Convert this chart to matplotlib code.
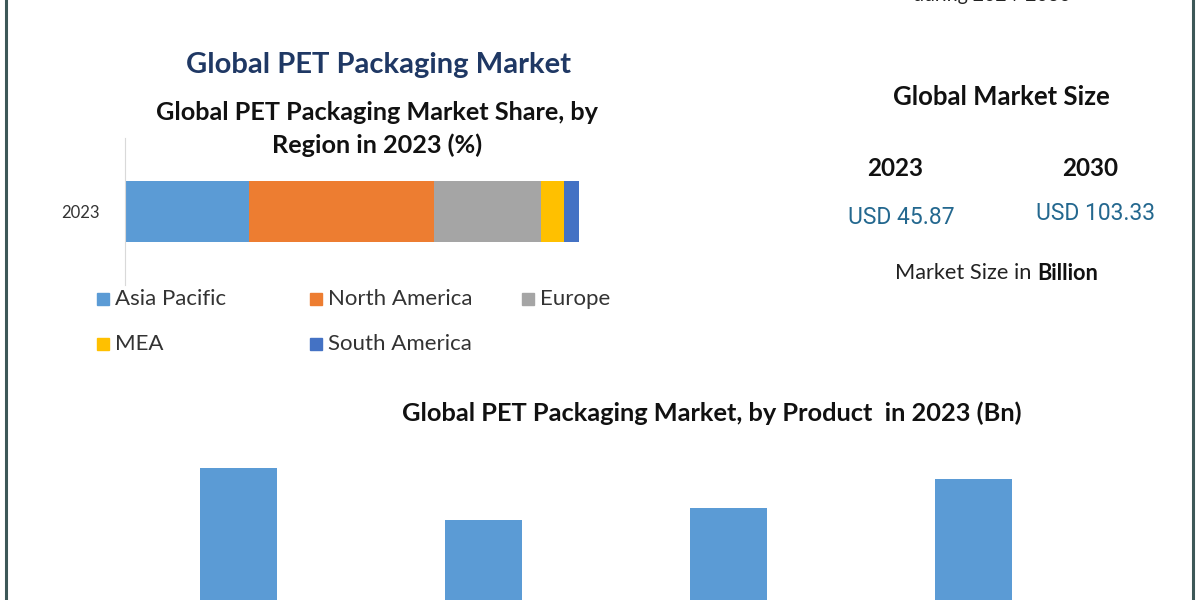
import matplotlib.pyplot as plt
from matplotlib.patches import Rectangle
from matplotlib.lines import Line2D

plt.rcParams['font.family'] = ['Lato', 'DejaVu Sans']

# participação por região em 2023 (%)
regioes = ['Asia Pacific', 'North America', 'Europe', 'MEA', 'South America']
share = [27.2, 40.8, 23.6, 5.1, 3.3]
cores = ['#5b9bd5', '#ed7d31', '#a5a5a5', '#ffc000', '#4472c4']

# mercado global (USD Bn)
anos = ['2023', '2030']
tamanho = ['USD 45.87', 'USD 103.33']

# mercado por produto em 2023 (Bn)
produtos = ['Bottles & Jars', 'Bags & Pouches', 'Trays', 'Lids/Caps & Closures']
valores = [12.9, 10.0, 10.7, 12.3]

W, H = 1200, 600


def px(x, y):  # pixel -> coordenada da figura
    return x / W, 1 - y / H


fig = plt.figure(figsize=(12, 6), dpi=100)
fig.patch.set_facecolor('white')

# bordas laterais
for xb in [5.5, 1192.5]:
    fig.add_artist(Line2D([xb / W, xb / W], [0, 1], color='#3d5858', lw=2.2))

# textos do topo
fig.text(*px(992, -5), 'during 2024-2030', ha='center', va='center', fontsize=14, color='#222222')
fig.text(*px(379, 65), 'Global PET Packaging Market', ha='center', va='center',
         fontsize=21, fontweight='bold', color='#1f3864')
fig.text(*px(377, 129), 'Global PET Packaging Market Share, by\nRegion in 2023 (%)', ha='center',
         va='center', fontsize=18.2, fontweight='bold', color='#111111', linespacing=1.45)

# barra empilhada horizontal
ax = fig.add_axes([125 / W, 1 - 285 / H, 545 / W, 147 / H])
left = 0
for nome, val, c in zip(regioes, share, cores):
    ax.barh(['2023'], [val], left=left, color=c, height=0.42, label=nome)
    left += val
ax.set_xlim(0, 120)
ax.set_ylim(-0.5, 0.5)
for s in ['top', 'right', 'bottom']:
    ax.spines[s].set_visible(False)
ax.spines['left'].set_color('#d9d9d9')
ax.set_xticks([])
ax.tick_params(axis='y', length=0, labelsize=12, pad=18, labelcolor='#333333')

# legenda (linha por linha)
leg_x = [97, 310, 522]
leg_y = [299, 344]
for i, (nome, c) in enumerate(zip(regioes, cores)):
    lx, ly = leg_x[i % 3], leg_y[i // 3]
    fig.add_artist(Rectangle(px(lx, ly + 6), 12 / W, 12 / H, color=c))
    fig.text(*px(lx + 18, ly), nome, ha='left', va='center', fontsize=16, color='#333333')

# tamanho de mercado
fig.text(*px(1001, 97), 'Global Market Size', ha='center', va='center',
         fontsize=18.5, fontweight='bold', color='#111111')
for xc, ano, tam, yv in zip([895, 1090], anos, tamanho, [218, 214]):
    fig.text(*px(xc, 168), ano, ha='center', va='center', fontsize=17.5,
             fontweight='bold', color='#111111')
    fig.text(*px(xc + 6, yv), tam, ha='center', va='center', fontsize=16.5,
             color='#24688f', fontfamily=['Roboto', 'DejaVu Sans'])
fig.text(*px(1031, 273), 'Market Size in', ha='right', va='center', fontsize=15.7, color='#222222')
fig.text(*px(1037, 273), 'Billion', ha='left', va='center', fontsize=15.7,
         fontweight='bold', color='#111111')

# barras por produto
fig.text(*px(712, 413), 'Global PET Packaging Market, by Product  in 2023 (Bn)', ha='center',
         va='center', fontsize=18.3, fontweight='bold', color='#111111')
ax2 = fig.add_axes([116 / W, 1 - 700 / H, 980 / W, 260 / H])
ax2.bar(range(len(produtos)), valores, width=0.315, color='#5b9bd5')
ax2.set_xlim(-0.5, 3.5)
ax2.set_ylim(0, 260 / 17.96)
ax2.set_xticks(range(len(produtos)))
ax2.set_xticklabels(produtos)
ax2.axis('off')

fig.savefig('out.png', dpi=100)
